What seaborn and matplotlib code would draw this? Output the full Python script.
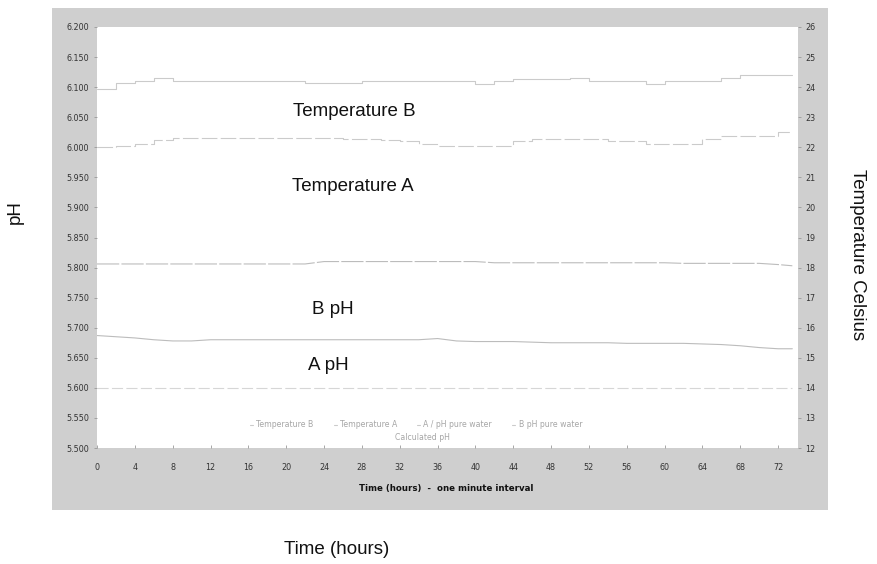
import numpy as np
import pandas as pd
import seaborn as sns
import matplotlib
matplotlib.use("Agg")
import matplotlib.pyplot as plt
from matplotlib.patches import Rectangle
from matplotlib.lines import Line2D

# ---------------- data ----------------
hours = [0, 2, 4, 6, 8, 10, 12, 14, 16, 18, 20, 22, 24, 26, 28, 30, 32, 34, 36,
         38, 40, 42, 44, 46, 48, 50, 52, 54, 56, 58, 60, 62, 64, 66, 68, 70, 72, 73.5]

temp_b = [23.93, 24.15, 24.2, 24.3, 24.2, 24.2, 24.2, 24.2, 24.2, 24.2, 24.2,
          24.15, 24.13, 24.13, 24.2, 24.2, 24.2, 24.2, 24.2, 24.2, 24.1, 24.2,
          24.27, 24.27, 24.27, 24.3, 24.2, 24.2, 24.2, 24.1, 24.2, 24.2, 24.2,
          24.3, 24.4, 24.4, 24.4, 24.4]

temp_a = [22.0, 22.03, 22.1, 22.25, 22.3, 22.3, 22.3, 22.3, 22.3, 22.3, 22.3,
          22.3, 22.3, 22.27, 22.27, 22.25, 22.2, 22.1, 22.05, 22.05, 22.05,
          22.05, 22.2, 22.27, 22.27, 22.27, 22.27, 22.2, 22.2, 22.1, 22.1, 22.1,
          22.27, 22.37, 22.37, 22.37, 22.5, 22.5]

b_ph = [5.806, 5.806, 5.806, 5.806, 5.806, 5.806, 5.806, 5.806, 5.806, 5.806,
        5.806, 5.806, 5.810, 5.810, 5.810, 5.810, 5.810, 5.810, 5.810, 5.810,
        5.810, 5.808, 5.808, 5.808, 5.808, 5.808, 5.808, 5.808, 5.808, 5.808,
        5.808, 5.807, 5.807, 5.807, 5.807, 5.807, 5.805, 5.803]

a_ph = [5.687, 5.685, 5.683, 5.680, 5.678, 5.678, 5.680, 5.680, 5.680, 5.680,
        5.680, 5.680, 5.680, 5.680, 5.680, 5.680, 5.680, 5.680, 5.682, 5.678,
        5.677, 5.677, 5.677, 5.676, 5.675, 5.675, 5.675, 5.675, 5.674, 5.674,
        5.674, 5.674, 5.673, 5.672, 5.670, 5.667, 5.665, 5.665]

calc_ph = [5.600, 5.600, 5.600, 5.600, 5.600, 5.600, 5.600, 5.600, 5.600, 5.600,
           5.600, 5.600, 5.600, 5.600, 5.600, 5.600, 5.600, 5.600, 5.600, 5.600,
           5.600, 5.600, 5.600, 5.600, 5.600, 5.600, 5.600, 5.600, 5.600, 5.600,
           5.600, 5.600, 5.600, 5.600, 5.600, 5.600, 5.600, 5.600]

x_ticks = [0, 4, 8, 12, 16, 20, 24, 28, 32, 36, 40, 44, 48, 52, 56, 60, 64, 68, 72]
ph_ticks = [5.500, 5.550, 5.600, 5.650, 5.700, 5.750, 5.800, 5.850, 5.900,
            5.950, 6.000, 6.050, 6.100, 6.150, 6.200]
ph_tick_labels = ["5.500", "5.550", "5.600", "5.650", "5.700", "5.750", "5.800",
                  "5.850", "5.900", "5.950", "6.000", "6.050", "6.100", "6.150", "6.200"]
temp_ticks = [12, 13, 14, 15, 16, 17, 18, 19, 20, 21, 22, 23, 24, 25, 26]

series_labels = ["Temperature B", "Temperature A", "A / pH pure water",
                 "B pH pure water", "Calculated pH"]

# ---------------- figure ----------------
sns.set_theme(style="white")
plt.rcParams["font.family"] = ["DejaVu Sans"]

W, H = 878, 564
fig = plt.figure(figsize=(W / 100, H / 100), dpi=100)
fig.patch.set_facecolor("white")

# grey chart-area band
band = Rectangle((52 / W, 1 - 510 / H), (828 - 52) / W, (510 - 8) / H,
                 transform=fig.transFigure, facecolor="#cfcfcf",
                 edgecolor="none", zorder=-10)
fig.patches.append(band)

ax = fig.add_axes([97 / W, 1 - 448 / H, (798 - 97) / W, (448 - 27) / H])
ax.set_zorder(1)
ax.set_facecolor("white")
ax2 = ax.twinx()
ax2.set_zorder(2)
ax2.patch.set_visible(False)

line_col = "#cbcbcb"
ph_col = "#bcbcbc"

df = pd.DataFrame({"hours": hours, "temp_b": temp_b, "temp_a": temp_a,
                   "b_ph": b_ph, "a_ph": a_ph, "calc_ph": calc_ph})

sns.lineplot(data=df, x="hours", y="b_ph", ax=ax, color=ph_col, lw=0.8,
             linestyle=(0, (20, 2)))
sns.lineplot(data=df, x="hours", y="a_ph", ax=ax, color=ph_col, lw=0.8)
sns.lineplot(data=df, x="hours", y="calc_ph", ax=ax, color="#d6d6d6", lw=0.8,
             linestyle=(0, (10, 3)))
sns.lineplot(data=df, x="hours", y="temp_b", ax=ax2, color=line_col, lw=0.8,
             drawstyle="steps-post")
sns.lineplot(data=df, x="hours", y="temp_a", ax=ax2, color=line_col, lw=0.8,
             drawstyle="steps-post", linestyle=(0, (14, 3)))

ax.set_xlim(0, 74.1)
ax.set_ylim(5.5, 6.2)
ax2.set_ylim(12, 26)

ax.set_xticks(x_ticks)
ax.set_xticklabels([str(t) for t in x_ticks])
ax.set_yticks(ph_ticks)
ax.set_yticklabels(ph_tick_labels)
ax2.set_yticks(temp_ticks)
ax2.set_yticklabels([str(t) for t in temp_ticks])

ax.set_xlabel("")
ax.set_ylabel("")
ax2.set_ylabel("")

for a in (ax, ax2):
    for s in a.spines.values():
        s.set_visible(False)

ax.tick_params(axis="y", left=True, labelsize=5.8, length=2.5, width=0.6,
               pad=3, color="#999999", labelcolor="#333333")
ax.tick_params(axis="x", bottom=True, labelsize=5.8, length=2.5, width=0.6,
               direction="in", pad=11, color="#999999", labelcolor="#333333")
ax2.tick_params(axis="y", right=True, labelsize=5.8, length=2.5, width=0.6,
                pad=3, color="#999999", labelcolor="#333333")

# series legend (two rows)
leg_col = "#a6a6a6"
h1 = [Line2D([], [], color=line_col, lw=0.8) for _ in range(4)]
leg1 = ax2.legend(h1, series_labels[:4], ncol=4, loc="center",
                  bbox_to_anchor=(0.455, 0.055), fontsize=5.6, frameon=False,
                  labelcolor=leg_col, handlelength=0.4, handletextpad=0.4,
                  columnspacing=2.6)
ax2.add_artist(leg1)
h2 = [Line2D([], [], color="white", lw=0)]
ax2.legend(h2, series_labels[4:], loc="center", bbox_to_anchor=(0.462, 0.024),
           fontsize=5.6, frameon=False, labelcolor=leg_col, handlelength=0.3,
           handletextpad=0.2)

# in-plot annotations
ann_font = dict(fontsize=13.5, family=["Liberation Sans", "DejaVu Sans"],
                color="#111111", ha="center", va="center")
ax2.text(27.2, 23.18, "Temperature B", **ann_font)
ax2.text(27.0, 20.7, "Temperature A", **ann_font)
ax2.text(24.95, 16.62, "B pH", **ann_font)
ax2.text(24.5, 14.76, "A pH", **ann_font)

# axis titles
fig.text(446 / W, 1 - 488 / H, "Time (hours)  -  one minute interval",
         fontsize=6.2, fontweight="bold", ha="center", va="center", color="#111111")
outer = dict(fontsize=13.5, family=["Liberation Sans", "DejaVu Sans"],
             color="#111111", ha="center", va="center")
fig.text(15 / W, 1 - 212 / H, "pH", rotation=90, **outer)
fig.text(858 / W, 1 - 255 / H, "Temperature Celsius", rotation=-90, **outer)
fig.text(337 / W, 1 - 550 / H, "Time (hours)", **outer)

fig.savefig("out.png", dpi=100, facecolor="white")
